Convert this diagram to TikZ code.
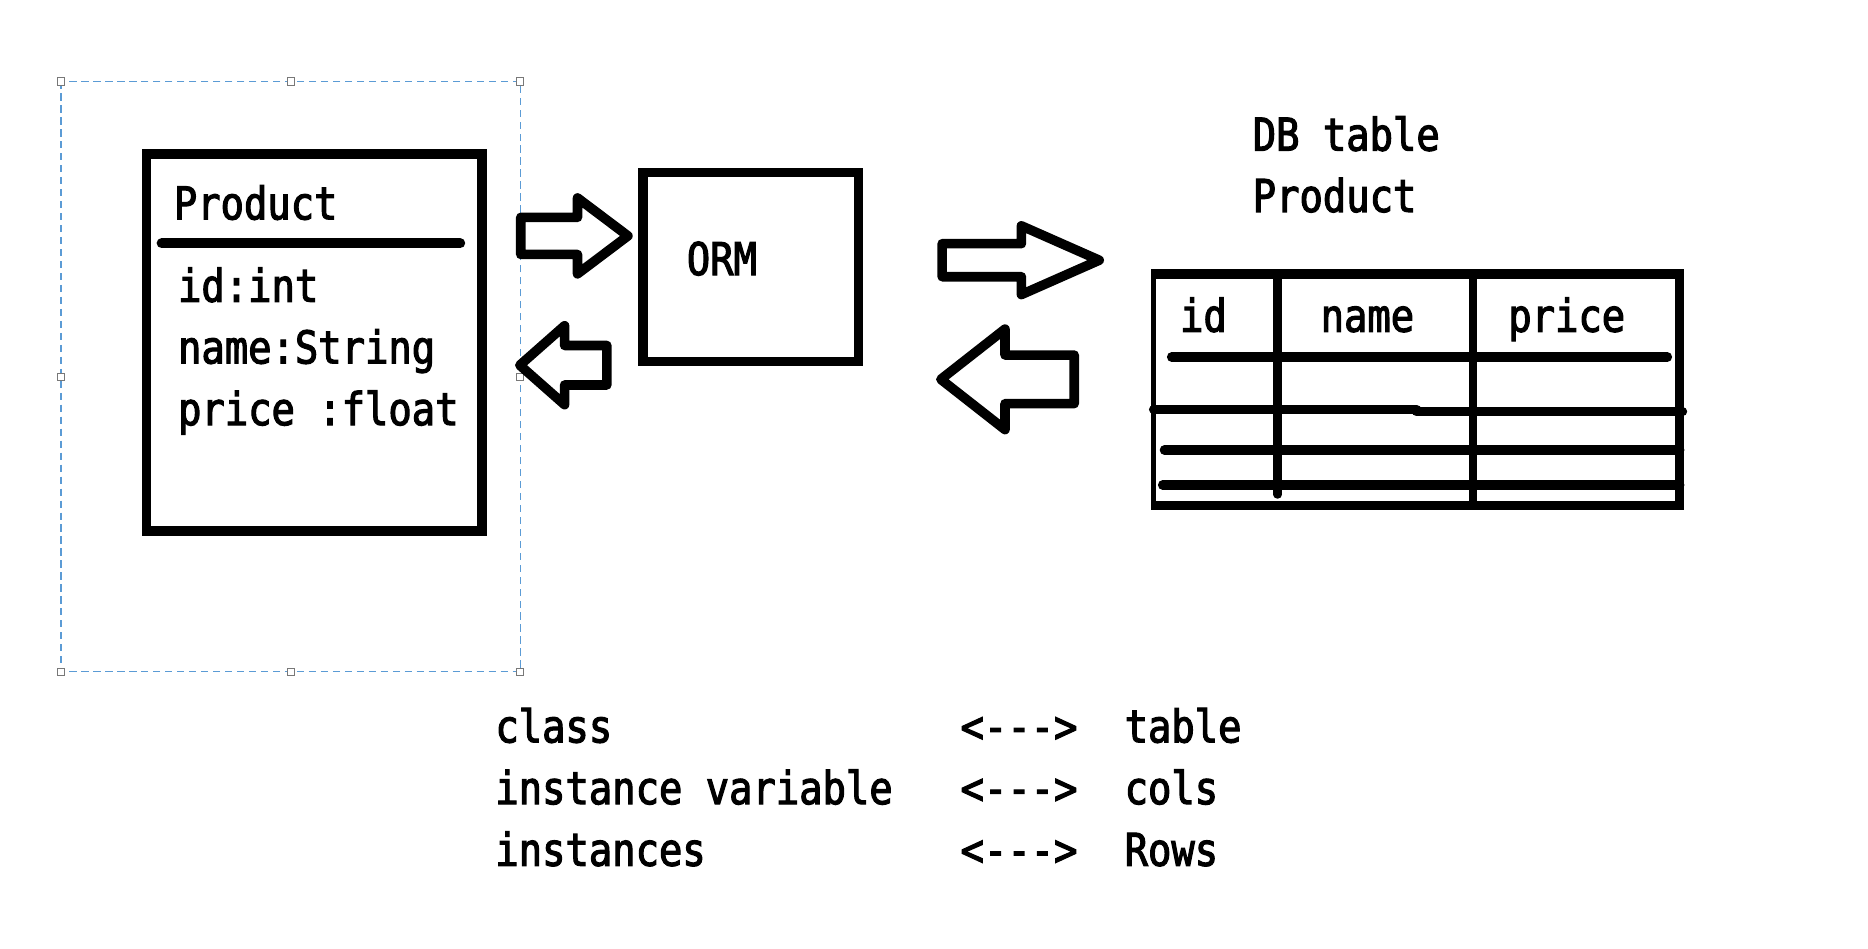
\documentclass[tikz,border=0pt]{standalone}
\usepackage{fontspec}
\setmonofont{DejaVu Sans Mono}[FakeStretch=0.86,FakeBold=2.5]
\definecolor{selblue}{RGB}{91,155,213}
\definecolor{handlegray}{RGB}{120,120,120}
\newcommand\monotext{\ttfamily\fontsize{37.7pt}{51.5pt}\selectfont}
\begin{document}
\begin{tikzpicture}[x=1pt,y=-1pt]
      \fill[white] (0,0) rectangle (1560,792);
      \useasboundingbox (0,0) rectangle (1560,792);
      % selection frame round the class
      \draw[selblue, line width=1.2pt, dash pattern=on 6pt off 4pt] (51,68) rectangle (434.5,561);
      \foreach \hx/\hy in {51/68,243/68,434.5/68,51/314.5,434.5/314.5,51/561,243/561,434.5/561}
        \draw[handlegray, fill=white, line width=0.8pt] (\hx-3,\hy-3) rectangle (\hx+3,\hy+3);
      \begin{scope}[every node/.style={draw, line width=8pt, inner sep=0pt, outer sep=0pt}]
        \node (cls) [minimum width=280, minimum height=315] at (262.4,286.1) {};
        \node (orm) [minimum width=180, minimum height=158] at (627,223) {};
        \node (tbl) [draw=none, minimum width=439.2, minimum height=193] at (1183.1,325.5) {};
      \end{scope}
      \draw[line width=8.4pt, line cap=round] (135,203.2) -- (384.3,203.2);
      % table frame, columns and rows
      \draw[line width=4pt] (tbl.north west) rectangle (tbl.south east);
      \draw[line width=8pt] ([xshift=-2pt]tbl.north west) -- ([xshift=3.5pt]tbl.north east);
      \draw[line width=8pt] ([xshift=-2pt]tbl.south west) -- ([xshift=3.5pt]tbl.south east);
      \draw[line width=7pt] (tbl.north east) -- (tbl.south east);
      \foreach \cx/\cy in {1067/413, 1230.3/422}
        \draw[line width=7pt, line cap=round] (\cx,229) -- (\cx,\cy);
      \foreach \ra/\rb/\ry in {978.5/1392.4/298.2, 963.5/1183/342, 1183/1405/343.8, 972.5/1402.7/375.8, 971/1402.7/405}
        \draw[line width=8pt, line cap=round] (\ra,\ry) -- (\rb,\ry);
      % hollow arrows between the boxes
      \foreach \tx/\bx/\px/\ay/\sw/\hw in {434.9/482.3/524.4/197/15.5/31.7, 506.8/471.5/434.1/305/16.5/33, 786.8/853/918/217.3/13.8/28.7, 897.1/839.3/785.7/316.8/20.3/42}
        \draw[line width=8pt, line join=round] (\tx,\ay-\sw) -- (\bx,\ay-\sw) -- (\bx,\ay-\hw) -- (\px,\ay) -- (\bx,\ay+\hw) -- (\bx,\ay+\sw) -- (\tx,\ay+\sw) -- cycle;
      \begin{scope}[every node/.style={font=\monotext, inner sep=0pt, anchor=base west}]
        \node (clsname) at (145,183.2) {Product};
        \foreach \attr [count=\a] in {id:int, name:String, price :float}
          \node (attr\a) at (148.5,200.5+51.5*\a) {\attr};
        \node (ormname) at (573.4,229.7) {ORM};
        \node (dbtitle) at (1046,125.8) {DB table};
        \node (dbname) at (1046,177) {Product};
        \foreach \col/\cx [count=\c] in {id/985.3, name/1102.7, price/1259.4}
          \node (head\c) at (\cx,277) {\col};
        \foreach \lhs/\rhs [count=\r] in {class/table, instance variable/cols, instances/Rows} {
          \node (lhs\r) at (413.5,568.5+51.5*\r) {\lhs};
          \node (map\r) at (802,568.5+51.5*\r) {<-{}-{}->};
          \node (rhs\r) at (939,568.5+51.5*\r) {\rhs};
        }
      \end{scope}
    \end{tikzpicture}
\end{document}
